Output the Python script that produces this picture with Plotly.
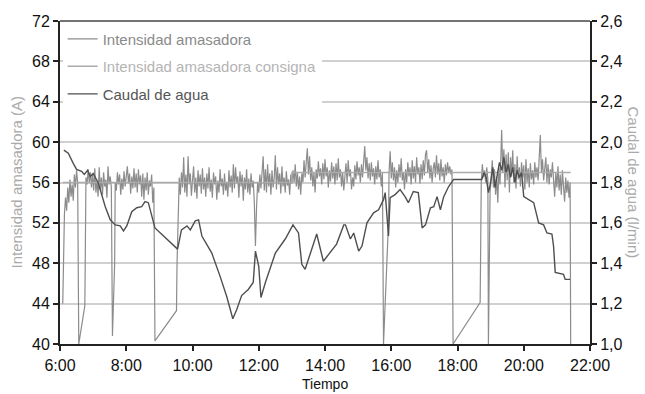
import plotly.graph_objects as go

# ---- Intensidad amasadora (A) ----
int_time = [
 "06:05","06:06","06:08","06:10","06:12","06:14","06:16","06:18","06:20","06:22","06:24","06:26","06:28","06:30","06:32","06:34","06:45","06:46","06:47",
 "06:49","06:51","06:53","06:55","06:57","06:59","07:01","07:03","07:05","07:07","07:09","07:11","07:13","07:15","07:17","07:19","07:21","07:23","07:25","07:27","07:29","07:31","07:33","07:34","07:35","07:39","07:40",
 "07:42","07:44","07:46","07:48","07:50","07:52","07:54","07:56","07:58","08:00","08:02","08:04","08:06","08:08","08:10","08:12","08:14","08:16","08:18","08:20","08:22","08:24","08:26","08:28","08:30","08:32","08:34","08:36","08:38","08:40","08:42","08:44","08:46","08:48","08:50","08:52","09:31","09:32","09:34","09:36",
 "09:38","09:40","09:42","09:44","09:46","09:48","09:50","09:52","09:54","09:56","09:58","10:00","10:02","10:04","10:06","10:08","10:10","10:12","10:14","10:16","10:18","10:20","10:22","10:24","10:26","10:28","10:30","10:32","10:34","10:36","10:38","10:40","10:42","10:44","10:46","10:48","10:50","10:52","10:54","10:56","10:58","11:00","11:02","11:04","11:06","11:08","11:10","11:12","11:14","11:16","11:18","11:20","11:22","11:24","11:26","11:28","11:30","11:32","11:34","11:36","11:38","11:40","11:42","11:44","11:46","11:48","11:50","11:52","11:54","11:56","11:58","12:00","12:02","12:04","12:06","12:08","12:10","12:12","12:14","12:16","12:18","12:20","12:22","12:24","12:26","12:28","12:30","12:32","12:34","12:36","12:38","12:40","12:42","12:44","12:46","12:48","12:50","12:52","12:54","12:56","12:58","13:00",
 "13:02","13:04","13:06","13:08","13:10","13:12","13:14","13:16","13:18","13:20","13:22","13:24","13:26","13:28","13:30","13:32","13:34","13:36","13:38","13:40","13:42","13:44","13:46","13:48","13:50","13:52","13:54","13:56","13:58","14:00","14:02","14:04","14:06","14:08","14:10","14:12","14:14","14:16","14:18","14:20","14:22","14:24","14:26","14:28","14:30","14:32","14:34","14:36","14:38","14:40","14:42","14:44","14:46","14:48","14:50","14:52","14:54","14:56","14:58","15:00","15:02","15:04","15:06","15:08","15:10","15:12","15:14","15:16","15:18","15:20","15:22","15:24","15:26","15:28","15:30","15:32","15:34","15:36","15:38","15:40","15:42","15:44","15:46","15:55","15:56","15:58","16:00","16:02","16:04","16:06","16:08","16:10","16:12","16:14","16:16","16:18","16:20","16:22","16:24","16:26","16:28","16:30","16:32","16:34","16:36","16:38","16:40","16:42","16:44","16:46","16:48","16:50","16:52","16:54","16:56","16:58","17:00","17:02","17:04","17:06","17:08","17:10","17:12","17:14","17:16","17:18","17:20","17:22","17:24","17:26","17:28","17:30","17:32","17:34","17:36","17:38","17:40","17:42","17:44","17:46","17:48","17:50","17:52","18:41","18:42","18:43",
 "18:45","18:47","18:49","18:51","18:53","18:55","18:56","18:58","18:59","19:01","19:03","19:05","19:07","19:09","19:11","19:13","19:15","19:17","19:19","19:20","19:22","19:24","19:26","19:28","19:30","19:32","19:34","19:36","19:38","19:40","19:42","19:44","19:46","19:48","19:50","19:52","19:54","19:56","19:58","20:00","20:02","20:04","20:06","20:08","20:10","20:12","20:14","20:16","20:18","20:20","20:22","20:24","20:26","20:28","20:30","20:32","20:34","20:36","20:38","20:40","20:42","20:44","20:46","20:48","20:50","20:52","20:54","20:56","20:58","21:00","21:02","21:04","21:06","21:08","21:10","21:12","21:14","21:16","21:18","21:20","21:22","21:24","21:25",
]
int_value = [
 44.0,48.0,52.8,54.5,53.2,55.5,54.0,56.3,54.6,55.8,54.2,56.8,55.5,57.2,56.0,40.0,43.8,50.0,56.5,
 55.8,57.3,56.0,57.0,55.5,56.8,55.2,57.4,55.0,56.2,54.6,57.5,55.3,56.5,54.8,57.0,55.6,56.3,54.5,57.6,55.8,56.6,55.5,41.0,40.8,48.0,56.0,
 55.2,57.0,55.8,56.8,54.8,56.4,55.3,57.1,55.6,56.8,57.6,55.9,56.9,54.9,56.6,55.4,57.4,55.5,56.9,55.0,57.3,55.8,56.7,54.6,56.9,54.3,56.5,55.2,57.0,54.8,56.2,55.6,56.8,54.0,55.5,40.3,43.3,48.0,52.0,56.5,
 54.8,57.0,55.5,58.5,55.0,56.8,54.6,58.6,55.8,56.9,54.7,56.2,57.6,55.0,56.5,54.4,57.2,55.6,56.8,54.9,57.4,55.3,56.5,54.6,56.9,55.4,57.5,55.1,56.3,54.5,57.0,55.8,56.6,54.3,56.2,55.0,57.3,55.6,56.4,54.8,56.9,55.2,56.0,54.6,57.2,55.5,56.7,55.0,57.8,55.4,57.5,55.9,56.6,54.5,57.1,55.6,56.8,54.2,56.5,55.3,57.3,55.0,56.4,54.8,56.9,55.5,56.2,54.0,49.7,53.5,56.0,55.0,56.8,55.4,57.0,58.6,55.2,57.3,55.0,57.8,55.6,56.9,54.8,57.2,55.5,56.4,58.7,55.3,57.5,55.8,56.9,54.9,57.6,55.6,56.5,55.0,57.1,55.7,56.3,54.8,56.8,55.9,
 57.2,56.0,57.8,55.6,57.0,55.3,56.6,54.8,56.9,56.0,58.2,56.5,58.0,59.4,56.8,58.6,56.2,57.5,55.6,57.0,55.0,57.3,56.4,58.1,56.6,57.4,55.8,57.9,56.3,58.3,56.6,57.5,55.5,57.2,56.1,58.0,56.4,57.6,55.8,57.9,56.2,58.4,56.5,57.3,55.6,57.0,55.2,56.8,57.9,56.0,58.2,56.6,57.3,55.3,56.5,55.6,57.7,56.3,58.1,56.7,57.5,56.0,57.8,56.5,58.3,59.6,57.2,58.5,56.4,57.9,56.2,58.0,56.6,57.4,55.8,57.6,56.3,58.2,56.5,57.3,55.6,57.0,40.0,52.0,57.0,59.1,56.4,58.0,56.2,57.5,55.5,57.2,56.0,57.8,56.5,58.4,56.2,57.0,55.3,57.3,56.0,58.0,56.6,57.5,55.8,58.2,56.4,57.6,56.0,58.5,56.8,57.5,55.9,57.8,56.3,58.2,56.7,58.8,59.2,57.0,58.3,56.4,57.7,56.0,57.4,58.0,56.5,58.7,56.8,57.9,56.2,58.3,56.6,57.5,56.0,57.8,56.7,58.0,57.0,57.6,56.8,57.3,40.0,44.1,49.7,56.0,
 57.8,56.5,57.2,56.0,57.5,56.3,40.0,50.0,55.0,56.5,58.2,55.5,57.3,54.8,56.6,54.0,57.5,55.8,58.4,61.2,57.0,59.3,55.5,58.8,56.2,59.0,55.0,58.5,56.6,59.2,56.0,57.8,55.4,58.6,56.3,57.5,55.6,58.0,56.5,57.7,55.3,58.3,56.0,57.4,55.5,57.9,56.3,57.2,55.8,58.0,56.5,57.5,56.2,58.0,60.7,57.0,58.3,56.2,57.6,58.5,56.0,57.8,55.8,57.3,56.5,58.0,56.2,54.6,57.0,55.5,57.6,55.2,56.8,54.8,57.2,55.0,54.1,56.5,55.0,56.2,54.5,56.0,40.0,
]

# ---- Intensidad amasadora consigna (A) ----
cons_time = ["06:05", "13:00", "13:00", "21:25"]
cons_value = [56.0, 56.0, 57.0, 57.0]

# ---- Caudal de agua (l/min) ----
caud_time = [
 "06:07","06:15","06:24","06:30","06:39","06:44","06:50","06:55","07:00","07:05","07:09","07:22","07:31","07:40","07:49","07:55","08:01","08:10","08:19","08:28","08:34","08:40","08:46","08:52",
 "09:33","09:37","09:40","09:50","09:56","10:05","10:11","10:17","10:35","10:50","11:02","11:13","11:20","11:29","11:41","11:50","11:54","12:00","12:04","12:12","12:30","12:48","13:02","13:12","13:18","13:24","13:36","13:45","13:57","14:09","14:21","14:34","14:37","14:46","14:52","15:01","15:07","15:16","15:28","15:37","15:46","15:49","15:55","15:58","16:07","16:16","16:25","16:31","16:40","16:49","16:56","17:02","17:11","17:17","17:23","17:29","17:35","17:44","17:53",
 "18:44","18:48","18:52","18:56","19:00","19:04","19:08","19:12","19:16","19:20","19:24","19:28","19:32","19:36","19:40","19:44","19:48","19:52","19:56","20:00","20:18","20:27","20:36","20:42","20:51","20:54","20:57","21:12","21:15","21:24",
]
caud_value = [
 1.96,1.945,1.895,1.865,1.855,1.84,1.86,1.83,1.845,1.82,1.80,1.68,1.615,1.59,1.585,1.56,1.585,1.655,1.675,1.68,1.705,1.70,1.635,1.575,
 1.47,1.535,1.565,1.585,1.565,1.61,1.615,1.535,1.45,1.335,1.235,1.125,1.17,1.24,1.27,1.305,1.46,1.385,1.23,1.305,1.45,1.52,1.59,1.55,1.395,1.37,1.47,1.545,1.41,1.45,1.495,1.59,1.59,1.52,1.55,1.46,1.485,1.60,1.65,1.665,1.715,1.75,1.535,1.725,1.74,1.765,1.73,1.70,1.755,1.75,1.575,1.59,1.675,1.68,1.73,1.665,1.73,1.78,1.815,
 1.815,1.85,1.825,1.75,1.80,1.875,1.775,1.84,1.90,1.86,1.925,1.85,1.89,1.825,1.875,1.80,1.86,1.825,1.85,1.73,1.70,1.60,1.59,1.55,1.545,1.485,1.355,1.345,1.32,1.32,
]

x_tickvals = ["06:00","08:00","10:00","12:00","14:00","16:00","18:00","20:00","22:00"]
x_ticktext = ["6:00","8:00","10:00","12:00","14:00","16:00","18:00","20:00","22:00"]

assert len(int_time) == len(int_value)
assert len(caud_time) == len(caud_value)

D = "2000-01-01 "
def ts(lst):
    return [D + t for t in lst]

FONT = "Arial, 'Liberation Sans', sans-serif"

fig = go.Figure()
fig.add_trace(go.Scatter(
    x=ts(int_time), y=int_value, mode="lines",
    name="<span style='color:#8a8a8a'>Intensidad amasadora</span>",
    line=dict(color="#8c8c8c", width=1.2), legendgroup="a"))
fig.add_trace(go.Scatter(
    x=ts(cons_time), y=cons_value, mode="lines",
    name="<span style='color:#b4b4b4'>Intensidad amasadora consigna</span>",
    line=dict(color="#ababab", width=1.5), legendgroup="b"))
fig.add_trace(go.Scatter(
    x=ts(caud_time), y=caud_value,
    mode="lines", yaxis="y2",
    name="<span style='color:#555555'>Caudal de agua</span>",
    line=dict(color="#4f4f4f", width=1.4), legendgroup="c"))

fig.update_layout(
    width=645, height=394,
    margin=dict(l=60, r=55, t=21, b=50),
    paper_bgcolor="white", plot_bgcolor="white",
    separators=",.",
    font=dict(family=FONT, size=16, color="#111"),
    showlegend=True,
    legend=dict(x=0.005, y=0.995, xanchor="left", yanchor="top",
                bgcolor="white", borderwidth=0,
                font=dict(family=FONT, size=15, color="#888"),
                tracegroupgap=5, itemwidth=30),
    xaxis=dict(type="date",
               range=[D + "06:00", D + "22:00"],
               tickvals=ts(x_tickvals), ticktext=x_ticktext,
               showgrid=False, showline=True, linecolor="#222", linewidth=2,
               mirror=False, ticks="outside", ticklen=5, tickwidth=2, tickcolor="#222",
               ticklabelstandoff=1,
               tickfont=dict(size=16, color="#111"), zeroline=False),
    yaxis=dict(range=[40, 72], dtick=4, tick0=40,
               showgrid=True, gridcolor="#d0d0d0", gridwidth=1.5,
               showline=True, linecolor="#222", linewidth=2,
               ticks="outside", ticklen=5, tickwidth=2, tickcolor="#222",
               tickfont=dict(size=16, color="#111"), zeroline=False),
    yaxis2=dict(range=[1.0, 2.6], dtick=0.2, tick0=1.0, tickformat=".1f",
                overlaying="y", side="right", showgrid=False,
                showline=True, linecolor="#222", linewidth=2,
                ticks="outside", ticklen=5, tickwidth=2, tickcolor="#222",
                tickfont=dict(size=16, color="#111"), zeroline=False),
    shapes=[dict(type="line", xref="paper", yref="paper", x0=0, x1=1, y0=1, y1=1,
                 line=dict(color="#444", width=1.5))],
    annotations=[
        dict(text="Intensidad amasadora (A)", xref="paper", yref="paper",
             x=-0.083, y=0.5, textangle=-90, showarrow=False,
             font=dict(size=15, color="#aaaaaa"), xanchor="center", yanchor="middle"),
        dict(text="Caudal de agua (l/min)", xref="paper", yref="paper",
             x=1.083, y=0.5, textangle=90, showarrow=False,
             font=dict(size=15, color="#aaaaaa"), xanchor="center", yanchor="middle"),
        dict(text="Tiempo", xref="paper", yref="paper",
             x=0.5, y=-0.152, showarrow=False, yanchor="bottom", borderpad=0,
             font=dict(size=14, color="#111")),
    ],
)

fig.write_html("out.html")
